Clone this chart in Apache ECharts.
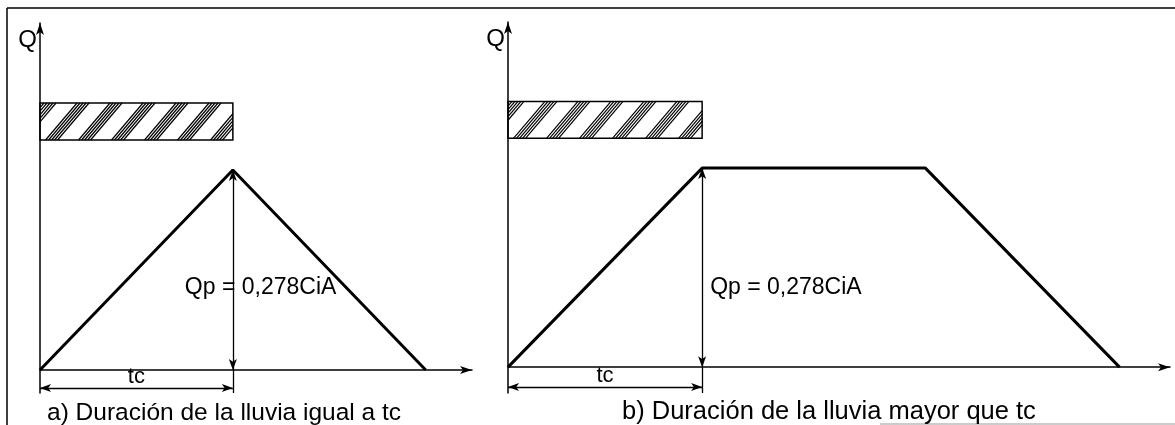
<!DOCTYPE html>
<html>
<head>
<meta charset="utf-8">
<script src="https://cdn.jsdelivr.net/npm/echarts@6/dist/echarts.min.js"></script>
<style>
  html, body { margin: 0; padding: 0; background: #fff; }
  #chart { width: 1175px; height: 425px; }
</style>
</head>
<body>
<div id="chart"></div>
<script>
// data (tc = 1, Qp = 1)
var tcValue = 1;
var qpValue = 1;
var timeA = [0, 1, 2];
var flowA = [0, 1, 0];
var timeB = [0, 1, 2.15, 3.15];
var flowB = [0, 1, 1, 0];
var rainStart = 0;
var rainEnd = 1;
var rainBand = [1.15, 1.335];
var qpText = "Qp = 0,278CiA";
var tcText = "tc";
var captions = ["a) Duración de la lluvia igual a tc", "b) Duración de la lluvia mayor que tc"];

var FONT = '"Liberation Sans", Arial, sans-serif';

function pairs(xs, ys) {
  return xs.map(function (x, i) { return [x, ys[i]]; });
}

// hatched rectangle for the rain
function renderRain(params, api) {
  var p0 = api.coord([api.value(0), api.value(3)]);
  var p1 = api.coord([api.value(1), api.value(2)]);
  var x0 = p0[0], y0 = p0[1], x1 = p1[0], y1 = p1[1];
  var h = y1 - y0;
  var s = 0.85;
  var children = [];
  for (var g = x0 + 4; g < x1 + s * h + 40; g += 33) {
    for (var j = 0; j < 5; j++) {
      var k = g + j * 3;
      var ya = Math.max(y0, y0 + (k - x1) / s);
      var yb = Math.min(y1, y0 + (k - x0) / s);
      if (yb > ya) {
        children.push({
          type: "line",
          shape: { x1: k - s * (ya - y0), y1: ya, x2: k - s * (yb - y0), y2: yb },
          style: { stroke: "#000", lineWidth: 1.2 }
        });
      }
    }
  }
  children.push({
    type: "rect",
    shape: { x: x0, y: y0, width: x1 - x0, height: h },
    style: { fill: "none", stroke: "#000", lineWidth: 1.5 }
  });
  return { type: "group", children: children };
}

function dimLines(yDim, yExt) {
  return [
    // Qp
    [{ coord: [tcValue, 0], symbol: "arrow" }, { coord: [tcValue, qpValue], symbol: "arrow" }],
    // tc
    [{ coord: [0, yDim], symbol: "arrow", label: { show: true } }, { coord: [tcValue, yDim], symbol: "arrow" }],
    // extension line
    [{ coord: [tcValue, 0], symbol: "none", label: { show: false } }, { coord: [tcValue, yExt], symbol: "none" }]
  ];
}

function axisX(idx, max) {
  return {
    type: "value", gridIndex: idx, min: 0, max: max,
    axisLine: { onZero: true, lineStyle: { color: "#000", width: 1.5 }, symbol: ["none", "arrow"], symbolSize: [6, 12] },
    axisTick: { show: false }, axisLabel: { show: false }, splitLine: { show: false }
  };
}

function axisY(idx, min, max) {
  return {
    type: "value", gridIndex: idx, min: min, max: max,
    name: "Q", nameLocation: "end", nameGap: -29,
    nameTextStyle: { color: "#000", fontSize: 24, fontFamily: FONT, align: "right", padding: [0, 3, 0, 0] },
    axisLine: { lineStyle: { color: "#000", width: 1.5 }, symbol: ["none", "arrow"], symbolSize: [6, 12] },
    axisTick: { show: false }, axisLabel: { show: false }, splitLine: { show: false }
  };
}

function hydro(idx, data, yDim, yExt) {
  return {
    type: "line", xAxisIndex: idx, yAxisIndex: idx, data: data,
    symbol: "none", lineStyle: { color: "#000", width: 3 }, silent: true,
    markLine: {
      silent: true, symbolSize: [6, 11],
      lineStyle: { color: "#000", width: 1.3, type: "solid" },
      label: { show: false, position: "middle", formatter: tcText, color: "#000", fontSize: 22, fontFamily: FONT, distance: 0 },
      data: dimLines(yDim, yExt)
    }
  };
}

function rain(idx) {
  return {
    type: "custom", xAxisIndex: idx, yAxisIndex: idx, silent: true,
    renderItem: renderRain,
    data: [[rainStart, rainEnd, rainBand[0], rainBand[1]]]
  };
}

function qpLabel(idx, yPos, dx) {
  return {
    type: "scatter", xAxisIndex: idx, yAxisIndex: idx, silent: true,
    symbolSize: 0, itemStyle: { opacity: 1 }, data: [[tcValue, yPos]],
    label: { show: true, position: "inside", align: "left", offset: [dx, 0], formatter: qpText, color: "#000", fontSize: 23, fontFamily: FONT }
  };
}

var chart = echarts.init(document.getElementById("chart"));
chart.setOption({
  backgroundColor: "#fff",
  animation: false,
  title: [
    { text: captions[0], left: 42, top: 396, textStyle: { color: "#000", fontSize: 24.5, fontWeight: "normal", fontFamily: FONT } },
    { text: captions[1], left: 617, top: 394, textStyle: { color: "#000", fontSize: 25.5, fontWeight: "normal", fontFamily: FONT } }
  ],
  grid: [
    { left: 40, top: 23, width: 432, height: 370 },
    { left: 508, top: 22, width: 662, height: 371 }
  ],
  xAxis: [axisX(0, 2.24), axisX(1, 3.41)],
  yAxis: [axisY(0, -0.115, 1.735), axisY(1, -0.13, 1.734)],
  series: [
    hydro(0, pairs(timeA, flowA), -0.09, -0.115),
    hydro(1, pairs(timeB, flowB), -0.1, -0.13),
    rain(0),
    rain(1),
    qpLabel(0, 0.41, -48),
    qpLabel(1, 0.40, 8)
  ],
  graphic: [
    { type: "line", shape: { x1: 7, y1: 8, x2: 1175, y2: 8 }, style: { stroke: "#000", lineWidth: 1.5 } },
    { type: "line", shape: { x1: 7, y1: 8, x2: 7, y2: 425 }, style: { stroke: "#000", lineWidth: 1.5 } },
    { type: "line", shape: { x1: 880, y1: 424, x2: 1175, y2: 424 }, style: { stroke: "#bbb", lineWidth: 1.5 } }
  ]
});
</script>
</body>
</html>
